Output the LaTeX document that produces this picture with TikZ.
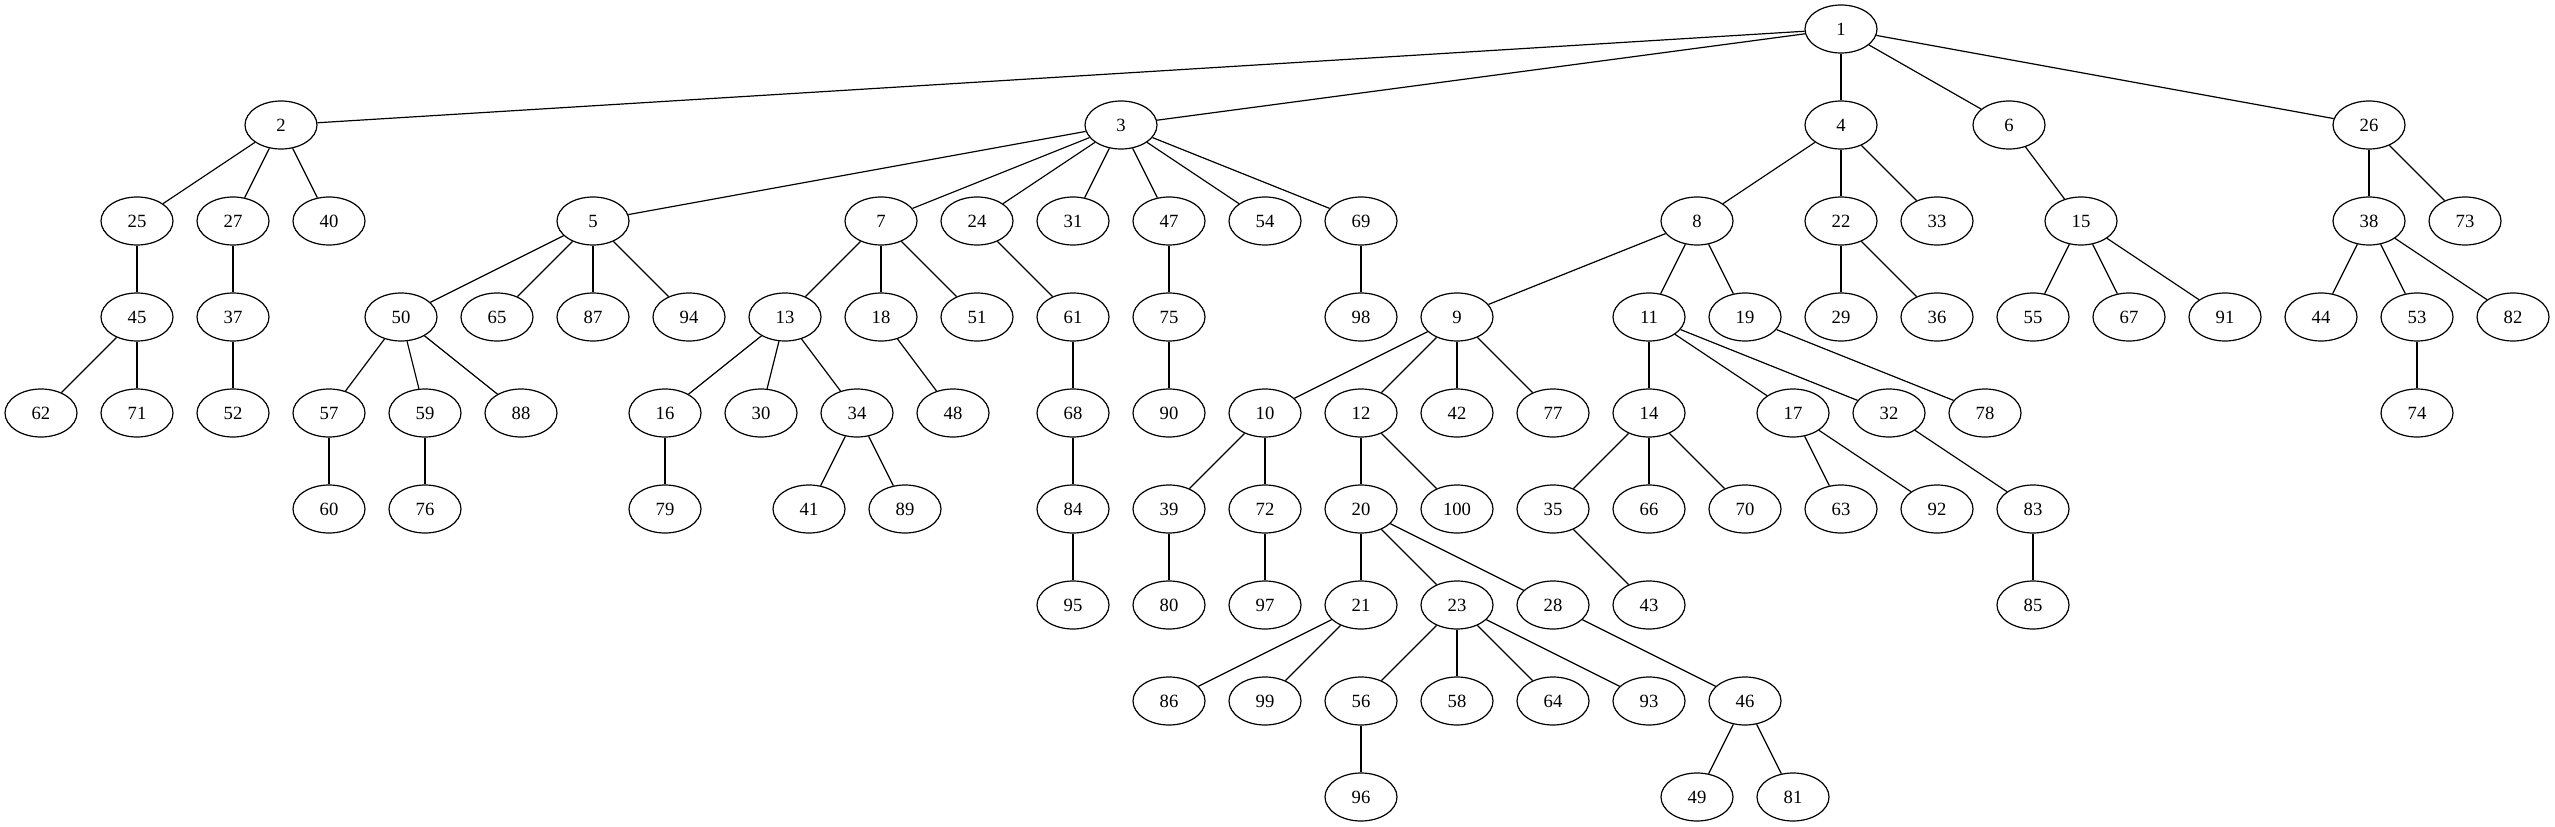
\documentclass[tikz,border=0pt]{standalone}
\usepackage{fontspec}
\setmainfont{Liberation Serif}
\usetikzlibrary{shapes.geometric}

\begin{document}
\begin{tikzpicture}
[x=72pt,y=-72pt,
 v/.style={draw,ellipse,line width=0.9pt,minimum width=54pt,minimum height=36pt,inner sep=0pt,
   font=\fontsize{14pt}{16pt}\selectfont},
 e/.style={line width=0.9pt}]
\useasboundingbox (-30.75pt,21.75pt) rectangle (1885.5pt,-598.5pt);
% nodes: name/column/rank
\foreach \n/\x/\y in {1/18.75/0,
	2/2.5/1, 3/11.25/1, 4/18.75/1, 6/20.5/1, 26/24.25/1,
	25/1/2, 27/2/2, 40/3/2, 5/5.75/2, 7/8.75/2, 24/9.75/2, 31/10.75/2, 47/11.75/2,
	54/12.75/2, 69/13.75/2, 8/17.25/2, 22/18.75/2, 33/19.75/2, 15/21.25/2, 38/24.25/2, 73/25.25/2,
	45/1/3, 37/2/3, 50/3.75/3, 65/4.75/3, 87/5.75/3, 94/6.75/3, 13/7.75/3, 18/8.75/3,
	51/9.75/3, 61/10.75/3, 75/11.75/3, 98/13.75/3, 9/14.75/3, 11/16.75/3, 19/17.75/3,
	29/18.75/3, 36/19.75/3, 55/20.75/3, 67/21.75/3, 91/22.75/3, 44/23.75/3, 53/24.75/3, 82/25.75/3,
	62/0/4, 71/1/4, 52/2/4, 57/3/4, 59/4/4, 88/5/4, 16/6.5/4, 30/7.5/4, 34/8.5/4, 48/9.5/4,
	68/10.75/4, 90/11.75/4, 10/12.75/4, 12/13.75/4, 42/14.75/4, 77/15.75/4, 14/16.75/4,
	17/18.25/4, 32/19.25/4, 78/20.25/4, 74/24.75/4,
	60/3/5, 76/4/5, 79/6.5/5, 41/8/5, 89/9/5, 84/10.75/5, 39/11.75/5, 72/12.75/5, 20/13.75/5,
	100/14.75/5, 35/15.75/5, 66/16.75/5, 70/17.75/5, 63/18.75/5, 92/19.75/5, 83/20.75/5,
	95/10.75/6, 80/11.75/6, 97/12.75/6, 21/13.75/6, 23/14.75/6, 28/15.75/6, 43/16.75/6, 85/20.75/6,
	86/11.75/7, 99/12.75/7, 56/13.75/7, 58/14.75/7, 64/15.75/7, 93/16.75/7, 46/17.75/7,
	96/13.75/8, 49/17.25/8, 81/18.25/8}
	\node[v] (n\n) at (\x,\y) {\n};
% edges: parent/child
\foreach \a/\b in {1/2, 1/3, 1/4, 1/6, 1/26,
	2/25, 2/27, 2/40, 25/45, 45/62, 45/71, 27/37, 37/52,
	3/5, 3/7, 3/24, 3/31, 3/47, 3/54, 3/69,
	5/50, 5/65, 5/87, 5/94, 50/57, 50/59, 50/88, 57/60, 59/76,
	7/13, 7/18, 7/51, 13/16, 13/30, 13/34, 16/79, 34/41, 34/89, 18/48,
	24/61, 61/68, 68/84, 84/95, 47/75, 75/90, 69/98,
	4/8, 4/22, 4/33, 8/9, 8/11, 8/19,
	9/10, 9/12, 9/42, 9/77, 10/39, 10/72, 39/80, 72/97,
	12/20, 12/100, 20/21, 20/23, 20/28, 21/86, 21/99,
	23/56, 23/58, 23/64, 23/93, 56/96, 28/46, 46/49, 46/81,
	11/14, 11/17, 11/32, 14/35, 14/66, 14/70, 35/43, 17/63, 17/92,
	32/83, 83/85, 19/78, 22/29, 22/36,
	6/15, 15/55, 15/67, 15/91, 26/38, 26/73, 38/44, 38/53, 38/82, 53/74}
	\draw[e] (n\a) -- (n\b);
\end{tikzpicture}
\end{document}
